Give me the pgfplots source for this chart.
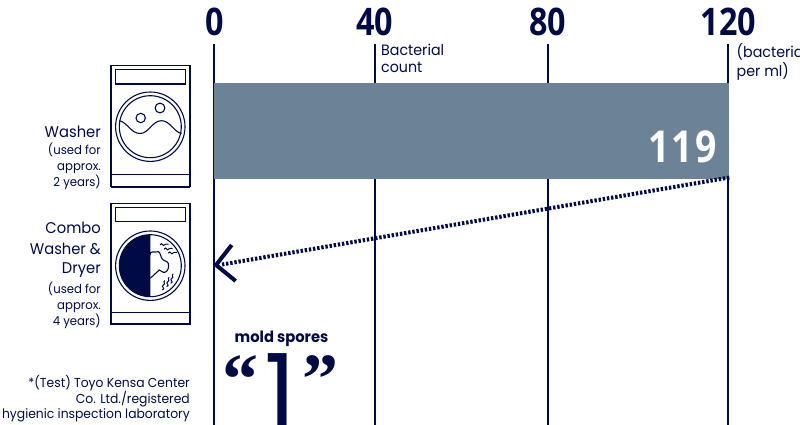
\documentclass[border=0pt]{standalone}
\usepackage{fontspec}
\usepackage{pgfplots}
\pgfplotsset{compat=1.18}
\setmainfont{Poppins}[FakeStretch=0.95]
\newfontfamily\numfont[FakeStretch=0.85]{Open Sans}
\newfontfamily\valfont[FakeStretch=0.85,LetterSpace=5]{Open Sans}
\newfontfamily\quotefont{Liberation Serif}
\definecolor{navy}{HTML}{000B46}
\definecolor{barblue}{HTML}{6C8296}

% 1pt = 1 reference pixel, tikz y runs down the image
\newcommand{\washerbody}[1]{%
  \draw[navy,line width=1.1pt] (111,#1) rectangle (190,#1+121);
  \draw[navy,line width=1.1pt] (115.5,#1+4.2) rectangle (185.7,#1+18.3);
  \draw[navy,line width=1.1pt] (111,#1+109) -- (190,#1+109);
  \draw[navy,line width=1.8pt] (111,#1+121) -- (190,#1+121);
}
\tikzset{lab/.style={navy,anchor=base east,inner sep=0pt,font=\fontsize{#1}{#1}\selectfont},
  labw/.style={navy,anchor=base west,inner sep=0pt,font=\fontsize{#1}{#1}\selectfont}}

\begin{document}
\begin{tikzpicture}[x=1pt,y=-1pt]
\useasboundingbox (0,0) rectangle (800,425);

\begin{axis}[
  at={(214.3pt,-44pt)}, anchor=north west,
  scale only axis, width=515pt, height=381pt,
  xmin=0, xmax=119, ymin=44, ymax=425, y dir=reverse,
  clip=false,
  axis line style={draw=none},
  ytick=\empty,
  % the printed scale is not evenly spaced, so the ticks sit where the picture has them
  xtick={0,37.06,77.03,118.77},
  xticklabels={0,40,80,120},
  xticklabel pos=right,
  x tick label style={font=\numfont\bfseries\fontsize{38}{38}\selectfont,text=navy,yshift=5pt},
  major tick length=0pt,
  xmajorgrids,
  grid style={navy,line width=2pt},
  /pgf/number format/assume math mode=true,
]
\addplot[xbar,bar width=96.5pt,bar shift=0pt,fill=barblue,draw=none,
  nodes near coords,point meta=x,
  every node near coord/.append style={anchor=east,xshift=-9pt,yshift=-16pt,text=white,
    font=\valfont\bfseries\fontsize{44}{44}\selectfont}]
  coordinates {(119,131)};
\addplot[navy,line width=4pt,dash pattern=on 2.4pt off 1.8pt]
  coordinates {(119,177.5) (1.8,264.5)};
% chevron at the end of the dotted line
\addplot[navy,line width=4pt,line join=miter]
  coordinates {(4.02,245) (0.4,265) (4.94,281)};
\end{axis}

% washer
\washerbody{65.7}
\draw[navy,line width=1.1pt] (150.3,126.7) circle[radius=34.7];
\draw[navy,line width=1.1pt] (150.3,126.7) circle[radius=31];
\draw[navy,line width=1.1pt] (119.3,120.7) .. controls (127,122) and (131,133.5) .. (140,133.5)
  .. controls (149,133.5) and (152,120.7) .. (161.5,120.7)
  .. controls (170,120.7) and (174,132) .. (181.5,133.5);
\draw[navy,line width=1.1pt] (140.7,118) circle[radius=4.7];
\draw[navy,line width=1.1pt] (160,108) circle[radius=4.9];

% combo washer and dryer
\washerbody{203.3}
\draw[navy,line width=1.1pt] (150.3,265.7) circle[radius=34.7];
\draw[navy,line width=1.1pt] (150.3,265.7) circle[radius=31];
\fill[navy] (150.3,234.7) arc[start angle=90,end angle=270,radius=31,y radius=-31] -- cycle;
\draw[navy,line width=1.1pt] (150,255) .. controls (150,250) and (154,253) .. (158.3,251.7)
  .. controls (161,252) and (160,258) .. (163.3,260)
  .. controls (166,261) and (169,262) .. (168.6,266)
  .. controls (168.6,270) and (166,273) .. (163.3,272.3)
  .. controls (161,272) and (161,270) .. (159.3,270) -- (150.3,278.3);
\foreach \sx/\sy in {160/245,164/249.3,168.3/253.3}{
  \draw[navy,line width=1pt] (\sx,\sy) .. controls (\sx+2,\sy-4) and (\sx+3,\sy+3) .. (\sx+5,\sy-0.5)
    .. controls (\sx+6,\sy-2) and (\sx+7,\sy) .. (\sx+8.5,\sy-1);
}
\foreach \sx/\sy in {162.3/290,166.7/286.7,170.7/283.3}{
  \draw[navy,line width=1pt] (\sx,\sy) .. controls (\sx+4,\sy-2) and (\sx-2,\sy-3) .. (\sx+1,\sy-5)
    .. controls (\sx+4,\sy-6) and (\sx,\sy-8) .. (\sx+2.5,\sy-9.5);
}

% labels
\node[lab=15.5] at (101,138) {Washer};
\node[lab=12.3] at (101,154) {(used for};
\node[lab=12.3] at (101,170) {approx.};
\node[lab=12.3] at (101,186) {2 years)};
\node[lab=15.5] at (101,233) {Combo};
\node[lab=15.5] at (101,254) {Washer \&};
\node[lab=15.5] at (101,273) {Dryer};
\node[lab=12.3] at (101,293) {(used for};
\node[lab=12.3] at (101,309) {approx.};
\node[lab=12.3] at (101,325) {4 years)};
\node[lab=13] at (190,387) {*(Test) Toyo Kensa Center};
\node[lab=13] at (190,403) {Co. Ltd./registered};
\node[lab=13] at (190,418.5) {hygienic inspection laboratory};
\node[labw=15] at (381,56) {Bacterial};
\node[labw=15] at (381,72.5) {count};
\node[labw=15] at (736.5,58) {(bacteria};
\node[labw=15] at (736.5,77) {per ml)};

\node[navy,anchor=base,inner sep=0pt,font=\bfseries\fontsize{15.5}{15.5}\selectfont] at (281.5,342) {mold spores};
\node[navy,anchor=base,inner sep=0pt,font=\fontsize{105}{105}\selectfont] at (280,429) {1};
\node[navy,anchor=base,inner sep=0pt,font=\quotefont\bfseries\fontsize{72}{72}\selectfont] at (240,403) {“};
\node[navy,anchor=base,inner sep=0pt,font=\quotefont\bfseries\fontsize{72}{72}\selectfont] at (320,403) {”};
\end{tikzpicture}
\end{document}
